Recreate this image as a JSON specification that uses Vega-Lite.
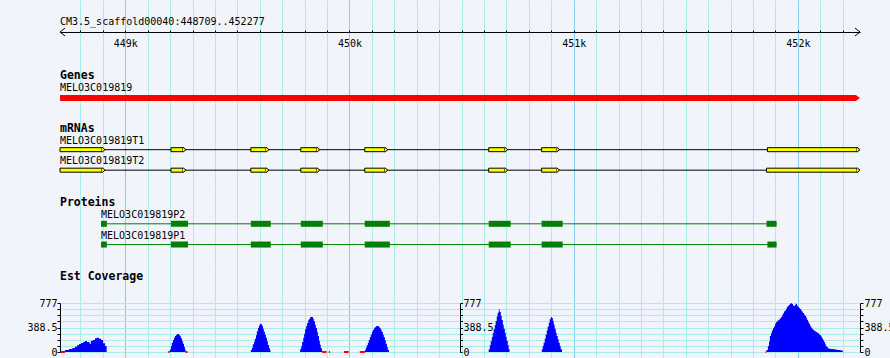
{
  "$schema": "https://vega.github.io/schema/vega-lite/v6.json",
  "background": "#f1f4fa",
  "padding": {"left": 26, "right": 30, "top": 0, "bottom": 0},
  "bounds": "flush",
  "spacing": 0,
  "config": {
    "view": {"stroke": null},
    "text": {"font": "DejaVu Sans Mono", "fontSize": 10, "color": "black"}
  },
  "datasets": {
    "region": [{"pos": 448709, "end": 452277, "label": "CM3.5_scaffold00040:448709..452277"}],
    "chevrons": [{"pos": 448709, "dir": "left"}, {"pos": 452277, "dir": "right"}],
    "titles": [
      {"row": "Genes", "pos": 448709},
      {"row": "mRNAs", "pos": 448709},
      {"row": "Proteins", "pos": 448709},
      {"row": "Est Coverage", "pos": 448709}
    ],
    "genes": [{"row": "MELO3C019819", "pos": 448709, "end": 452277}],
    "mrnas": [
      {"row": "MELO3C019819T1", "pos": 448709, "end": 452277},
      {"row": "MELO3C019819T2", "pos": 448709, "end": 452277}
    ],
    "exons": [
      {"row": "MELO3C019819T1", "pos": 448709, "end": 448910},
      {"row": "MELO3C019819T1", "pos": 449204, "end": 449271},
      {"row": "MELO3C019819T1", "pos": 449560, "end": 449641},
      {"row": "MELO3C019819T1", "pos": 449783, "end": 449868},
      {"row": "MELO3C019819T1", "pos": 450068, "end": 450171},
      {"row": "MELO3C019819T1", "pos": 450621, "end": 450706},
      {"row": "MELO3C019819T1", "pos": 450857, "end": 450937},
      {"row": "MELO3C019819T1", "pos": 451864, "end": 452277},
      {"row": "MELO3C019819T2", "pos": 448709, "end": 448910},
      {"row": "MELO3C019819T2", "pos": 449204, "end": 449271},
      {"row": "MELO3C019819T2", "pos": 449560, "end": 449641},
      {"row": "MELO3C019819T2", "pos": 449783, "end": 449868},
      {"row": "MELO3C019819T2", "pos": 450068, "end": 450171},
      {"row": "MELO3C019819T2", "pos": 450621, "end": 450706},
      {"row": "MELO3C019819T2", "pos": 450857, "end": 450937},
      {"row": "MELO3C019819T2", "pos": 451860, "end": 452277}
    ],
    "proteins": [
      {"row": "MELO3C019819P2", "pos": 448892, "end": 451905},
      {"row": "MELO3C019819P1", "pos": 448892, "end": 451905}
    ],
    "cds": [
      {"row": "MELO3C019819P2", "pos": 448892, "end": 448918},
      {"row": "MELO3C019819P2", "pos": 449204, "end": 449280},
      {"row": "MELO3C019819P2", "pos": 449560, "end": 449649},
      {"row": "MELO3C019819P2", "pos": 449783, "end": 449881},
      {"row": "MELO3C019819P2", "pos": 450068, "end": 450180},
      {"row": "MELO3C019819P2", "pos": 450621, "end": 450719},
      {"row": "MELO3C019819P2", "pos": 450857, "end": 450951},
      {"row": "MELO3C019819P2", "pos": 451860, "end": 451905},
      {"row": "MELO3C019819P1", "pos": 448892, "end": 448918},
      {"row": "MELO3C019819P1", "pos": 449204, "end": 449280},
      {"row": "MELO3C019819P1", "pos": 449560, "end": 449649},
      {"row": "MELO3C019819P1", "pos": 449783, "end": 449881},
      {"row": "MELO3C019819P1", "pos": 450068, "end": 450180},
      {"row": "MELO3C019819P1", "pos": 450621, "end": 450719},
      {"row": "MELO3C019819P1", "pos": 450857, "end": 450951},
      {"row": "MELO3C019819P1", "pos": 451864, "end": 451905}
    ],
    "lowcov": [
      {"pos": 448713, "pos_end": 448731},
      {"pos": 449192, "pos_end": 449199},
      {"pos": 449269, "pos_end": 449278},
      {"pos": 449878, "pos_end": 449898},
      {"pos": 449908, "pos_end": 449913},
      {"pos": 449975, "pos_end": 449997},
      {"pos": 450046, "pos_end": 450069},
      {"pos": 451856, "pos_end": 451860}
    ],
    "cov": [
      {"pos": 448731, "cov": 32}, {"pos": 448749, "cov": 48}, {"pos": 448764, "cov": 63}, {"pos": 448776, "cov": 84},
      {"pos": 448785, "cov": 106}, {"pos": 448794, "cov": 127}, {"pos": 448803, "cov": 143}, {"pos": 448812, "cov": 159},
      {"pos": 448820, "cov": 174}, {"pos": 448829, "cov": 159}, {"pos": 448841, "cov": 132}, {"pos": 448847, "cov": 180},
      {"pos": 448856, "cov": 190}, {"pos": 448865, "cov": 217}, {"pos": 448874, "cov": 227}, {"pos": 448883, "cov": 211},
      {"pos": 448892, "cov": 190}, {"pos": 448901, "cov": 138}, {"pos": 448910, "cov": 95}, {"pos": 448917, "cov": 0},
      {"pos": 449199, "cov": 40}, {"pos": 449204, "cov": 95}, {"pos": 449208, "cov": 148}, {"pos": 449213, "cov": 190},
      {"pos": 449217, "cov": 227}, {"pos": 449222, "cov": 253}, {"pos": 449226, "cov": 270}, {"pos": 449231, "cov": 285},
      {"pos": 449239, "cov": 275}, {"pos": 449244, "cov": 253}, {"pos": 449248, "cov": 217}, {"pos": 449253, "cov": 174},
      {"pos": 449257, "cov": 132}, {"pos": 449262, "cov": 84}, {"pos": 449266, "cov": 40}, {"pos": 449269, "cov": 0},
      {"pos": 449560, "cov": 32}, {"pos": 449565, "cov": 69}, {"pos": 449569, "cov": 122}, {"pos": 449574, "cov": 164},
      {"pos": 449578, "cov": 211}, {"pos": 449583, "cov": 264}, {"pos": 449587, "cov": 328}, {"pos": 449592, "cov": 380},
      {"pos": 449596, "cov": 418}, {"pos": 449600, "cov": 444}, {"pos": 449609, "cov": 418}, {"pos": 449614, "cov": 370},
      {"pos": 449618, "cov": 322}, {"pos": 449623, "cov": 275}, {"pos": 449627, "cov": 227}, {"pos": 449632, "cov": 169},
      {"pos": 449636, "cov": 111}, {"pos": 449641, "cov": 63}, {"pos": 449645, "cov": 26}, {"pos": 449648, "cov": 0},
      {"pos": 449780, "cov": 42}, {"pos": 449785, "cov": 95}, {"pos": 449789, "cov": 159}, {"pos": 449794, "cov": 227},
      {"pos": 449798, "cov": 291}, {"pos": 449802, "cov": 360}, {"pos": 449807, "cov": 413}, {"pos": 449811, "cov": 460},
      {"pos": 449816, "cov": 502}, {"pos": 449820, "cov": 529}, {"pos": 449825, "cov": 555}, {"pos": 449837, "cov": 529},
      {"pos": 449841, "cov": 486}, {"pos": 449846, "cov": 434}, {"pos": 449850, "cov": 380}, {"pos": 449855, "cov": 322},
      {"pos": 449859, "cov": 253}, {"pos": 449864, "cov": 180}, {"pos": 449868, "cov": 116}, {"pos": 449872, "cov": 58},
      {"pos": 449877, "cov": 26}, {"pos": 449878, "cov": 0},
      {"pos": 450069, "cov": 32}, {"pos": 450073, "cov": 69}, {"pos": 450077, "cov": 106}, {"pos": 450082, "cov": 148},
      {"pos": 450086, "cov": 190}, {"pos": 450091, "cov": 233}, {"pos": 450095, "cov": 275}, {"pos": 450100, "cov": 317},
      {"pos": 450104, "cov": 349}, {"pos": 450109, "cov": 375}, {"pos": 450113, "cov": 391}, {"pos": 450118, "cov": 407},
      {"pos": 450122, "cov": 412}, {"pos": 450131, "cov": 397}, {"pos": 450135, "cov": 375}, {"pos": 450140, "cov": 349},
      {"pos": 450144, "cov": 317}, {"pos": 450149, "cov": 275}, {"pos": 450153, "cov": 233}, {"pos": 450158, "cov": 185},
      {"pos": 450162, "cov": 132}, {"pos": 450167, "cov": 79}, {"pos": 450171, "cov": 32}, {"pos": 450176, "cov": 0},
      {"pos": 450621, "cov": 42}, {"pos": 450626, "cov": 106}, {"pos": 450630, "cov": 169}, {"pos": 450635, "cov": 233},
      {"pos": 450639, "cov": 296}, {"pos": 450643, "cov": 360}, {"pos": 450648, "cov": 423}, {"pos": 450652, "cov": 492},
      {"pos": 450657, "cov": 561}, {"pos": 450661, "cov": 624}, {"pos": 450666, "cov": 677}, {"pos": 450670, "cov": 635},
      {"pos": 450675, "cov": 571}, {"pos": 450679, "cov": 508}, {"pos": 450684, "cov": 434}, {"pos": 450688, "cov": 370},
      {"pos": 450693, "cov": 307}, {"pos": 450697, "cov": 243}, {"pos": 450701, "cov": 180}, {"pos": 450706, "cov": 111},
      {"pos": 450710, "cov": 42}, {"pos": 450714, "cov": 0},
      {"pos": 450858, "cov": 42}, {"pos": 450862, "cov": 95}, {"pos": 450866, "cov": 148}, {"pos": 450871, "cov": 211},
      {"pos": 450875, "cov": 275}, {"pos": 450880, "cov": 339}, {"pos": 450884, "cov": 402}, {"pos": 450889, "cov": 465},
      {"pos": 450893, "cov": 518}, {"pos": 450898, "cov": 555}, {"pos": 450902, "cov": 540}, {"pos": 450907, "cov": 497},
      {"pos": 450911, "cov": 434}, {"pos": 450915, "cov": 370}, {"pos": 450920, "cov": 307}, {"pos": 450924, "cov": 253},
      {"pos": 450929, "cov": 201}, {"pos": 450933, "cov": 148}, {"pos": 450938, "cov": 95}, {"pos": 450942, "cov": 42},
      {"pos": 450948, "cov": 0},
      {"pos": 451860, "cov": 32}, {"pos": 451866, "cov": 96}, {"pos": 451871, "cov": 165}, {"pos": 451875, "cov": 255},
      {"pos": 451880, "cov": 298}, {"pos": 451884, "cov": 340}, {"pos": 451889, "cov": 378}, {"pos": 451893, "cov": 404},
      {"pos": 451898, "cov": 447}, {"pos": 451902, "cov": 473}, {"pos": 451906, "cov": 489}, {"pos": 451911, "cov": 505},
      {"pos": 451915, "cov": 516}, {"pos": 451920, "cov": 532}, {"pos": 451924, "cov": 553}, {"pos": 451929, "cov": 580},
      {"pos": 451933, "cov": 612}, {"pos": 451938, "cov": 644}, {"pos": 451942, "cov": 660}, {"pos": 451947, "cov": 686},
      {"pos": 451951, "cov": 718}, {"pos": 451956, "cov": 734}, {"pos": 451960, "cov": 745}, {"pos": 451964, "cov": 766},
      {"pos": 451969, "cov": 777}, {"pos": 451973, "cov": 761}, {"pos": 451978, "cov": 739}, {"pos": 451982, "cov": 729},
      {"pos": 451987, "cov": 750}, {"pos": 451991, "cov": 766}, {"pos": 451996, "cov": 734}, {"pos": 452000, "cov": 713},
      {"pos": 452005, "cov": 697}, {"pos": 452009, "cov": 681}, {"pos": 452014, "cov": 660}, {"pos": 452018, "cov": 644},
      {"pos": 452022, "cov": 617}, {"pos": 452027, "cov": 596}, {"pos": 452031, "cov": 575}, {"pos": 452036, "cov": 548},
      {"pos": 452040, "cov": 511}, {"pos": 452045, "cov": 479}, {"pos": 452049, "cov": 447}, {"pos": 452054, "cov": 415},
      {"pos": 452058, "cov": 388}, {"pos": 452063, "cov": 367}, {"pos": 452067, "cov": 351}, {"pos": 452071, "cov": 340},
      {"pos": 452076, "cov": 330}, {"pos": 452080, "cov": 319}, {"pos": 452085, "cov": 309}, {"pos": 452089, "cov": 298},
      {"pos": 452094, "cov": 282}, {"pos": 452098, "cov": 266}, {"pos": 452103, "cov": 245}, {"pos": 452107, "cov": 218},
      {"pos": 452112, "cov": 192}, {"pos": 452116, "cov": 160}, {"pos": 452121, "cov": 122}, {"pos": 452125, "cov": 96},
      {"pos": 452129, "cov": 74}, {"pos": 452134, "cov": 59}, {"pos": 452138, "cov": 53}, {"pos": 452144, "cov": 48},
      {"pos": 452156, "cov": 43}, {"pos": 452168, "cov": 37}, {"pos": 452177, "cov": 32}, {"pos": 452189, "cov": 27},
      {"pos": 452196, "cov": 21}, {"pos": 452201, "cov": 0}
    ]
  },
  "vconcat": [
    {
      "width": 800,
      "height": 32,
      "encoding": {
        "x": {
          "field": "pos", "type": "quantitative",
          "scale": {"domain": [448709, 452277], "nice": false, "zero": false},
          "axis": {
            "orient": "bottom", "title": null,
            "values": [448800,448900,449000,449100,449200,449300,449400,449500,449600,449700,449800,449900,450000,450100,450200,450300,450400,450500,450600,450700,450800,450900,451000,451100,451200,451300,451400,451500,451600,451700,451800,451900,452000,452100,452200],
            "grid": true,
            "gridColor": {"condition": {"test": "datum.value % 1000 === 0", "value": "#87ceeb"}, "value": "#a8ecee"},
            "domain": true, "domainColor": "black", "domainWidth": 1,
            "ticks": true, "tickColor": "black", "tickSize": 2, "tickWidth": 1,
            "labels": true,
            "labelExpr": "datum.value % 1000 === 0 ? (datum.value / 1000) + 'k' : ''",
            "labelFont": "DejaVu Sans Mono", "labelFontSize": 10, "labelColor": "black",
            "labelPadding": 4, "labelOverlap": false, "labelFlush": false, "labelBound": false
          }
        }
      },
      "layer": [
        {
          "data": {"name": "region"},
          "mark": {"type": "text", "align": "left", "baseline": "alphabetic", "dy": 9, "font": "DejaVu Sans Mono", "fontSize": 10, "color": "black"},
          "encoding": {"text": {"field": "label"}}
        },
        {
          "data": {"name": "chevrons"},
          "mark": {"type": "point", "filled": false, "stroke": "black", "strokeWidth": 1, "size": 64, "opacity": 1},
          "encoding": {
            "y": {"value": "height"},
            "shape": {"field": "dir", "type": "nominal", "scale": {"domain": ["left", "right"], "range": ["M 1.25 -1 L 0 0 L 1.25 1", "M -1.25 -1 L 0 0 L -1.25 1"]}, "legend": null}
          }
        }
      ]
    },
    {
      "width": 800,
      "height": 8,
      "data": {"name": "region"},
      "mark": {"type": "rule", "opacity": 0},
      "encoding": {
        "x": {
          "field": "pos", "type": "quantitative",
          "scale": {"domain": [448709, 452277], "nice": false, "zero": false},
          "axis": {
            "orient": "top", "title": null,
            "values": [448800,448900,449000,449100,449200,449300,449400,449500,449600,449700,449800,449900,450000,450100,450200,450300,450400,450500,450600,450700,450800,450900,451000,451100,451200,451300,451400,451500,451600,451700,451800,451900,452000,452100,452200],
            "grid": true,
            "gridColor": {"condition": {"test": "datum.value % 1000 === 0", "value": "#87ceeb"}, "value": "#a8ecee"},
            "domain": false, "ticks": true, "tickColor": "black", "tickSize": 2, "labels": false
          }
        }
      }
    },
    {
      "width": 800,
      "height": 62,
      "encoding": {
        "x": {
          "field": "pos", "type": "quantitative",
          "scale": {"domain": [448709, 452277], "nice": false, "zero": false},
          "axis": {
            "title": null,
            "values": [448800,448900,449000,449100,449200,449300,449400,449500,449600,449700,449800,449900,450000,450100,450200,450300,450400,450500,450600,450700,450800,450900,451000,451100,451200,451300,451400,451500,451600,451700,451800,451900,452000,452100,452200],
            "grid": true,
            "gridColor": {"condition": {"test": "datum.value % 1000 === 0", "value": "#87ceeb"}, "value": "#a8ecee"},
            "domain": false, "ticks": false, "labels": false
          }
        },
        "y": {
          "field": "row", "type": "nominal",
          "scale": {"type": "point", "domain": ["Genes", "MELO3C019819"], "padding": 1, "align": 0.905},
          "axis": null
        }
      },
      "layer": [
        {
          "data": {"name": "titles"},
          "transform": [{"filter": "datum.row === 'Genes'"}],
          "mark": {"type": "text", "align": "left", "baseline": "alphabetic", "dy": 2, "font": "DejaVu Sans Mono", "fontSize": 11.5, "fontWeight": "bold", "color": "black"},
          "encoding": {"text": {"field": "row"}}
        },
        {
          "data": {"name": "genes"},
          "mark": {"type": "bar", "height": 6, "color": "#ff0000", "x2Offset": -4},
          "encoding": {"x2": {"field": "end"}}
        },
        {
          "data": {"name": "genes"},
          "mark": {"type": "point", "shape": "M -1.4 -1 L 0 0 L -1.4 1 Z", "size": 36, "filled": true, "fill": "#ff0000", "strokeWidth": 0, "opacity": 1},
          "encoding": {"x": {"field": "end", "type": "quantitative"}}
        },
        {
          "data": {"name": "genes"},
          "mark": {"type": "text", "align": "left", "baseline": "alphabetic", "dy": -7, "font": "DejaVu Sans Mono", "fontSize": 10, "color": "black"},
          "encoding": {"text": {"field": "row"}}
        }
      ]
    },
    {
      "width": 800,
      "height": 82,
      "encoding": {
        "x": {
          "field": "pos", "type": "quantitative",
          "scale": {"domain": [448709, 452277], "nice": false, "zero": false},
          "axis": {
            "title": null,
            "values": [448800,448900,449000,449100,449200,449300,449400,449500,449600,449700,449800,449900,450000,450100,450200,450300,450400,450500,450600,450700,450800,450900,451000,451100,451200,451300,451400,451500,451600,451700,451800,451900,452000,452100,452200],
            "grid": true,
            "gridColor": {"condition": {"test": "datum.value % 1000 === 0", "value": "#87ceeb"}, "value": "#a8ecee"},
            "domain": false, "ticks": false, "labels": false
          }
        },
        "y": {
          "field": "row", "type": "nominal",
          "scale": {"type": "point", "domain": ["mRNAs", "MELO3C019819T1", "MELO3C019819T2"], "padding": 1, "align": 0.663},
          "axis": null
        }
      },
      "layer": [
        {
          "data": {"name": "titles"},
          "transform": [{"filter": "datum.row === 'mRNAs'"}],
          "mark": {"type": "text", "align": "left", "baseline": "alphabetic", "dy": 2.5, "font": "DejaVu Sans Mono", "fontSize": 11.5, "fontWeight": "bold", "color": "black"},
          "encoding": {"text": {"field": "row"}}
        },
        {
          "data": {"name": "mrnas"},
          "mark": {"type": "rule", "color": "black", "strokeWidth": 1},
          "encoding": {"x2": {"field": "end"}}
        },
        {
          "data": {"name": "exons"},
          "mark": {"type": "bar", "height": 4, "fill": "#ffff00", "stroke": "black", "strokeWidth": 1, "x2Offset": -3},
          "encoding": {"x2": {"field": "end"}}
        },
        {
          "data": {"name": "exons"},
          "mark": {"type": "point", "shape": "M -1.2 -1 L 0 0 L -1.2 1", "size": 25, "filled": true, "fill": "#ffff00", "stroke": "black", "strokeWidth": 1, "opacity": 1},
          "encoding": {"x": {"field": "end", "type": "quantitative"}}
        },
        {
          "data": {"name": "mrnas"},
          "mark": {"type": "text", "align": "left", "baseline": "alphabetic", "dy": -6, "font": "DejaVu Sans Mono", "fontSize": 10, "color": "black"},
          "encoding": {"text": {"field": "row"}}
        }
      ]
    },
    {
      "width": 800,
      "height": 83,
      "encoding": {
        "x": {
          "field": "pos", "type": "quantitative",
          "scale": {"domain": [448709, 452277], "nice": false, "zero": false},
          "axis": {
            "title": null,
            "values": [448800,448900,449000,449100,449200,449300,449400,449500,449600,449700,449800,449900,450000,450100,450200,450300,450400,450500,450600,450700,450800,450900,451000,451100,451200,451300,451400,451500,451600,451700,451800,451900,452000,452100,452200],
            "grid": true,
            "gridColor": {"condition": {"test": "datum.value % 1000 === 0", "value": "#87ceeb"}, "value": "#a8ecee"},
            "domain": false, "ticks": false, "labels": false
          }
        },
        "y": {
          "field": "row", "type": "nominal",
          "scale": {"type": "point", "domain": ["Proteins", "MELO3C019819P2", "MELO3C019819P1"], "padding": 1, "align": 0.459},
          "axis": null
        }
      },
      "layer": [
        {
          "data": {"name": "titles"},
          "transform": [{"filter": "datum.row === 'Proteins'"}],
          "mark": {"type": "text", "align": "left", "baseline": "alphabetic", "dy": 2.5, "font": "DejaVu Sans Mono", "fontSize": 11.5, "fontWeight": "bold", "color": "black"},
          "encoding": {"text": {"field": "row"}}
        },
        {
          "data": {"name": "proteins"},
          "mark": {"type": "rule", "color": "#008000", "strokeWidth": 1},
          "encoding": {"x2": {"field": "end"}}
        },
        {
          "data": {"name": "cds"},
          "mark": {"type": "bar", "height": 6, "color": "#008000"},
          "encoding": {"x2": {"field": "end"}}
        },
        {
          "data": {"name": "proteins"},
          "mark": {"type": "text", "align": "left", "baseline": "alphabetic", "dy": -6, "font": "DejaVu Sans Mono", "fontSize": 10, "color": "black"},
          "encoding": {"text": {"field": "row"}}
        }
      ]
    },
    {
      "width": 800,
      "height": 36,
      "data": {"name": "region"},
      "mark": {"type": "rule", "opacity": 0},
      "encoding": {
        "x": {
          "field": "pos", "type": "quantitative",
          "scale": {"domain": [448709, 452277], "nice": false, "zero": false},
          "axis": {
            "title": null,
            "values": [448800,448900,449000,449100,449200,449300,449400,449500,449600,449700,449800,449900,450000,450100,450200,450300,450400,450500,450600,450700,450800,450900,451000,451100,451200,451300,451400,451500,451600,451700,451800,451900,452000,452100,452200],
            "grid": true,
            "gridColor": {"condition": {"test": "datum.value % 1000 === 0", "value": "#87ceeb"}, "value": "#a8ecee"},
            "domain": false, "ticks": false, "labels": false
          }
        }
      }
    },
    {
      "width": 800,
      "height": 49,
      "encoding": {
        "x": {
          "field": "pos", "type": "quantitative",
          "scale": {"domain": [448709, 452277], "nice": false, "zero": false},
          "axis": {
            "title": null,
            "values": [448800,448900,449000,449100,449200,449300,449400,449500,449600,449700,449800,449900,450000,450100,450200,450300,450400,450500,450600,450700,450800,450900,451000,451100,451200,451300,451400,451500,451600,451700,451800,451900,452000,452100,452200],
            "grid": true,
            "gridColor": {"condition": {"test": "datum.value % 1000 === 0", "value": "#87ceeb"}, "value": "#a8ecee"},
            "domain": false, "ticks": false, "labels": false
          }
        }
      },
      "layer": [
        {
          "data": {"name": "cov"},
          "transform": [{"filter": "datum.pos < 450493"}],
          "mark": {"type": "area", "interpolate": "step-after", "color": "#0000ff"},
          "encoding": {
            "y": {
              "field": "cov", "type": "quantitative",
              "scale": {"domain": [0, 777], "nice": false, "zero": true},
              "axis": {
                "orient": "left", "title": null,
                "values": [0, 97.125, 194.25, 291.375, 388.5, 485.625, 582.75, 679.875, 777],
                "labelExpr": "indexof([0, 388.5, 777], datum.value) >= 0 ? format(datum.value, '~f') : ''",
                "grid": true, "gridColor": "#a8ecee",
                "domain": true, "domainColor": "black",
                "ticks": true, "tickColor": "black", "tickSize": 3,
                "labelFont": "DejaVu Sans Mono", "labelFontSize": 10, "labelColor": "black",
                "labelPadding": 0, "labelOverlap": false, "labelFlush": false, "labelBound": false
              }
            }
          }
        },
        {
          "data": {"name": "cov"},
          "transform": [{"filter": "datum.pos >= 450493"}],
          "mark": {"type": "area", "interpolate": "step-after", "color": "#0000ff"},
          "encoding": {
            "y": {
              "field": "cov", "type": "quantitative",
              "scale": {"domain": [0, 777], "nice": false, "zero": true},
              "axis": {
                "orient": "right", "offset": -400, "title": null,
                "values": [0, 97.125, 194.25, 291.375, 388.5, 485.625, 582.75, 679.875, 777],
                "labelExpr": "indexof([0, 388.5, 777], datum.value) >= 0 ? format(datum.value, '~f') : ''",
                "grid": false,
                "domain": true, "domainColor": "black",
                "ticks": true, "tickColor": "black", "tickSize": 2.5,
                "labelFont": "DejaVu Sans Mono", "labelFontSize": 10, "labelColor": "black",
                "labelPadding": 0.5, "labelOverlap": false, "labelFlush": false, "labelBound": false
              }
            }
          }
        },
        {
          "data": {"name": "lowcov"},
          "mark": {"type": "rule", "color": "#ff0000", "strokeWidth": 2},
          "encoding": {
            "x2": {"field": "pos_end"},
            "y": {
              "datum": 0, "type": "quantitative",
              "scale": {"domain": [0, 777], "nice": false, "zero": true},
              "axis": {
                "orient": "right", "offset": 0, "title": null,
                "values": [0, 97.125, 194.25, 291.375, 388.5, 485.625, 582.75, 679.875, 777],
                "labelExpr": "indexof([0, 388.5, 777], datum.value) >= 0 ? format(datum.value, '~f') : ''",
                "grid": false,
                "domain": true, "domainColor": "black",
                "ticks": true, "tickColor": "black", "tickSize": 3,
                "labelFont": "DejaVu Sans Mono", "labelFontSize": 10, "labelColor": "black",
                "labelPadding": 1, "labelOverlap": false, "labelFlush": false, "labelBound": false
              }
            }
          }
        },
        {
          "data": {"name": "titles"},
          "transform": [{"filter": "datum.row === 'Est Coverage'"}],
          "mark": {"type": "text", "align": "left", "baseline": "alphabetic", "dy": -23, "font": "DejaVu Sans Mono", "fontSize": 11.5, "fontWeight": "bold", "color": "black"},
          "encoding": {
            "text": {"field": "row"},
            "y": {"datum": 777, "type": "quantitative", "scale": {"domain": [0, 777], "nice": false, "zero": true}, "axis": null}
          }
        }
      ],
      "resolve": {"axis": {"y": "independent"}}
    },
    {
      "width": 800,
      "height": 6,
      "data": {"name": "region"},
      "mark": {"type": "rule", "opacity": 0},
      "encoding": {
        "x": {
          "field": "pos", "type": "quantitative",
          "scale": {"domain": [448709, 452277], "nice": false, "zero": false},
          "axis": {
            "title": null,
            "values": [448800,448900,449000,449100,449200,449300,449400,449500,449600,449700,449800,449900,450000,450100,450200,450300,450400,450500,450600,450700,450800,450900,451000,451100,451200,451300,451400,451500,451600,451700,451800,451900,452000,452100,452200],
            "grid": true,
            "gridColor": {"condition": {"test": "datum.value % 1000 === 0", "value": "#87ceeb"}, "value": "#a8ecee"},
            "domain": false, "ticks": false, "labels": false
          }
        }
      }
    }
  ]
}
